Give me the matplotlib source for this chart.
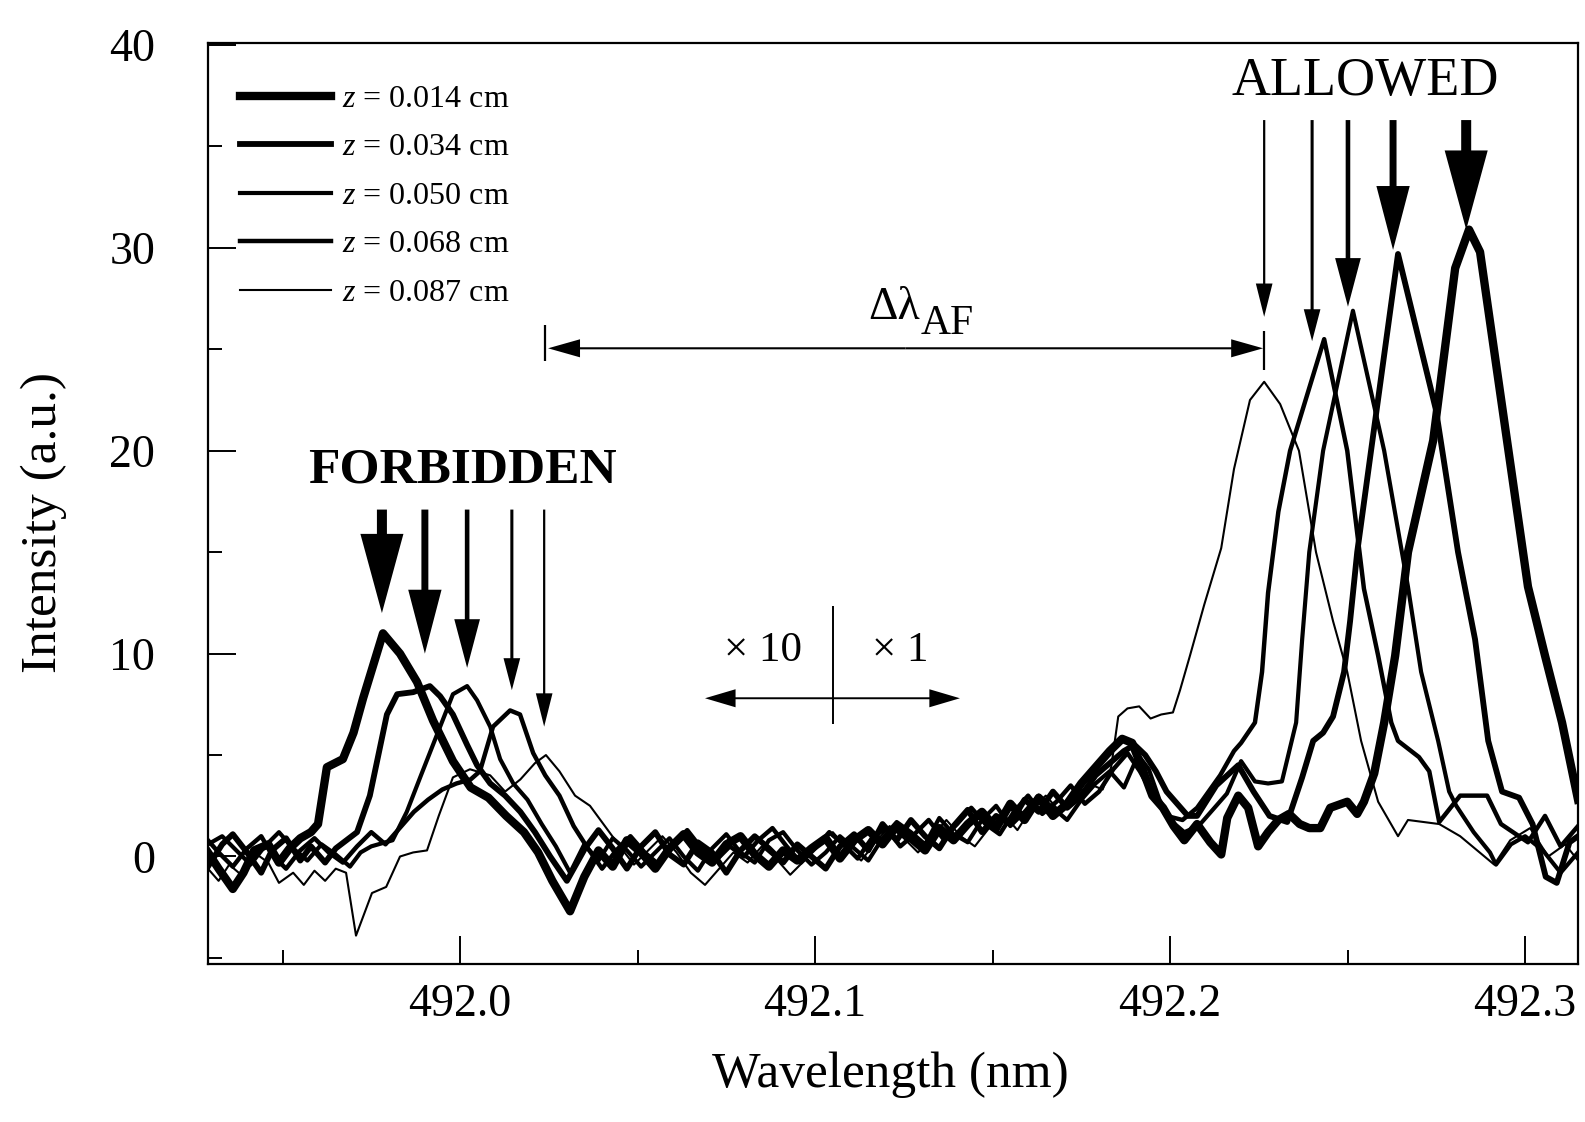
import matplotlib
matplotlib.use('Agg')
import matplotlib.pyplot as plt
from matplotlib.ticker import MultipleLocator, FormatStrFormatter

plt.rcParams['font.family'] = ['Liberation Serif', 'DejaVu Serif']
plt.rcParams['mathtext.fontset'] = 'custom'
plt.rcParams['mathtext.rm'] = 'Liberation Serif'
plt.rcParams['mathtext.it'] = 'Liberation Serif:italic'

# --- data (wavelength in nm, intensity in a.u.) ---
z_labels = ['0.014', '0.034', '0.050', '0.068', '0.087']
line_widths = [6.0, 4.2, 3.0, 3.2, 1.5]

wl_a = [491.929, 491.932, 491.936, 491.939, 491.942, 491.946, 491.949, 491.952, 491.955, 491.958,
        491.960, 491.9625, 491.967, 491.970, 491.9727, 491.9783, 491.9831, 491.9879, 491.9924, 491.998,
        492.003, 492.008, 492.013, 492.018, 492.022, 492.026, 492.031, 492.035, 492.039, 492.043,
        492.047, 492.051, 492.055, 492.059, 492.063, 492.067, 492.071, 492.075, 492.079, 492.083,
        492.087, 492.091, 492.095, 492.099, 492.103, 492.107, 492.111, 492.115, 492.119, 492.123,
        492.127, 492.131, 492.135, 492.139, 492.143, 492.147, 492.151, 492.155, 492.159, 492.163,
        492.167, 492.171, 492.175, 492.179, 492.183, 492.1865, 492.1893, 492.192, 492.195, 492.198,
        492.201, 492.204, 492.2076, 492.2113, 492.2144, 492.2161, 492.2192, 492.222, 492.2248, 492.2276,
        492.2305, 492.2335, 492.2365, 492.2392, 492.2423, 492.2451, 492.2499, 492.2527, 492.2546, 492.2575,
        492.2603, 492.2634, 492.267, 492.2741, 492.2803, 492.2842, 492.2873, 492.2904, 492.2949, 492.3008,
        492.3056, 492.3104, 492.3149]
int_a = [0.2, -0.6, -1.6, -0.8, 0.3, 0.6, -0.3, 0.4, 0.9, 1.2,
         1.6, 4.4, 4.8, 6.1, 7.8, 11.0, 10.0, 8.6, 6.7, 4.7,
         3.4, 2.9, 2.0, 1.2, 0.2, -1.2, -2.7, -1.0, 0.3, -0.5,
         0.8, 0.2, -0.6, 0.4, 1.1, 0.2, -0.3, 0.6, 1.0, 0.1,
         -0.5, 0.3, -0.2, 0.4, 0.9, -0.1, 0.8, 1.3, 0.6, 1.5,
         0.9, 0.3, 1.4, 0.8, 1.6, 2.2, 1.4, 2.6, 1.8, 2.9,
         2.0, 2.6, 3.6, 4.4, 5.2, 5.8, 5.6, 4.4, 3.0, 2.4,
         1.5, 0.8, 1.6, 0.7, 0.1, 1.9, 3.0, 2.4, 0.5, 1.2,
         1.8, 2.1, 1.6, 1.4, 1.4, 2.4, 2.7, 2.1, 2.7, 4.1,
         6.6, 9.9, 15.0, 20.5, 29.0, 30.9, 29.8, 26.0, 20.5, 13.3,
         9.9, 6.6, 2.8]

wl_b = [491.929, 491.933, 491.936, 491.940, 491.944, 491.947, 491.951, 491.955, 491.958, 491.962,
        491.965, 491.968, 491.971, 491.9746, 491.9794, 491.9823, 491.9868, 491.9915, 491.9944, 491.998,
        492.002, 492.0048, 492.0085, 492.0127, 492.017, 492.0211, 492.0254, 492.0301, 492.0352, 492.039,
        492.043, 492.047, 492.051, 492.055, 492.059, 492.063, 492.067, 492.071, 492.075, 492.079,
        492.083, 492.087, 492.091, 492.095, 492.099, 492.103, 492.107, 492.111, 492.115, 492.119,
        492.123, 492.127, 492.131, 492.135, 492.139, 492.143, 492.147, 492.151, 492.155, 492.159,
        492.163, 492.167, 492.171, 492.175, 492.179, 492.183, 492.187, 492.190, 492.193, 492.196,
        492.199, 492.202, 492.205, 492.2076, 492.213, 492.2192, 492.2235, 492.228, 492.233, 492.2372,
        492.2403, 492.2431, 492.2459, 492.249, 492.2507, 492.2527, 492.2566, 492.2642, 492.2749, 492.2811,
        492.2859, 492.2896, 492.2935, 492.2983, 492.3021, 492.3058, 492.3089, 492.3125, 492.3149]
int_b = [-0.5, 0.6, 1.1, 0.2, -0.8, 0.3, 0.9, -0.2, 0.5, -0.3,
         0.4, 0.8, 1.2, 3.0, 7.0, 8.0, 8.1, 8.4, 7.9, 7.0,
         5.5, 4.5, 3.6, 3.0, 2.2, 1.2, 0.0, -1.2, 0.4, 1.3,
         0.4, -0.6, 0.5, 1.2, 0.1, -0.4, 0.7, 0.2, -0.8, 0.3,
         1.0, 0.4, -0.3, 0.6, 0.0, -0.6, 0.5, 1.1, 0.3, 1.6,
         0.8, 1.8, 1.0, 0.4, 1.5, 2.3, 1.2, 2.0, 1.6, 2.8,
         2.2, 3.2, 2.4, 3.0, 4.0, 4.6, 5.2, 5.5, 5.0, 4.2,
         3.2, 2.6, 2.0, 2.0, 3.5, 4.5, 3.2, 2.0, 1.7, 3.9,
         5.7, 6.1, 6.9, 9.1, 11.6, 15.0, 20.0, 29.7, 22.0, 15.0,
         10.7, 5.7, 3.2, 2.9, 1.6, -1.0, -1.3, 0.7, 1.0]

wl_c = [491.929, 491.933, 491.937, 491.941, 491.945, 491.949, 491.953, 491.957, 491.961, 491.965,
        491.969, 491.972, 491.975, 491.981, 491.985, 491.989, 491.9944, 491.998, 492.002, 492.0048,
        492.0085, 492.0113, 492.015, 492.019, 492.023, 492.027, 492.031, 492.035, 492.039, 492.043,
        492.047, 492.051, 492.055, 492.059, 492.063, 492.067, 492.071, 492.075, 492.079, 492.083,
        492.087, 492.091, 492.095, 492.099, 492.103, 492.107, 492.111, 492.115, 492.119, 492.123,
        492.127, 492.131, 492.135, 492.139, 492.143, 492.147, 492.151, 492.155, 492.159, 492.163,
        492.167, 492.171, 492.175, 492.179, 492.183, 492.187, 492.191, 492.194, 492.197, 492.200,
        492.204, 492.208, 492.212, 492.216, 492.220, 492.2239, 492.2276, 492.2315, 492.2355, 492.2372,
        492.2392, 492.2431, 492.2515, 492.2603, 492.267, 492.2707, 492.2755, 492.2786, 492.2806, 492.2855,
        492.2901, 492.2918, 492.296, 492.300, 492.305, 492.310, 492.3149]
int_c = [0.6, 1.0, 0.3, -0.4, 0.5, 1.2, 0.4, -0.2, 0.6, 0.1,
         -0.5, 0.2, 0.5, 0.8, 2.2, 4.0, 6.4, 8.0, 8.4, 7.7,
         6.4, 4.8, 3.6, 2.8, 1.6, 0.5, -0.8, 0.6, -0.2, 0.9,
         0.3, -0.5, 0.2, 0.9, 0.0, -0.7, 0.4, 1.1, 0.2, -0.3,
         0.8, 1.2, 0.3, -0.4, 0.2, 1.0, 0.4, -0.2, 0.9, 1.7,
         1.2, 0.6, 1.9, 1.1, 0.7, 1.8, 2.5, 1.5, 2.2, 3.0,
         2.4, 1.8, 2.8, 3.6, 4.2, 3.4, 5.0, 4.3, 2.8, 1.8,
         1.2, 1.5, 2.3, 3.1, 4.7, 3.7, 3.6, 3.7, 6.6, 10.7,
         15.0, 20.0, 26.9, 20.0, 13.3, 9.1, 5.7, 3.2, 2.5, 1.2,
         0.2, -0.4, 0.6, 1.0, 0.3, -0.8, 0.2]

wl_d = [491.929, 491.932, 491.936, 491.940, 491.944, 491.947, 491.951, 491.955, 491.959, 491.963,
        491.967, 491.971, 491.975, 491.979, 491.983, 491.987, 491.991, 491.995, 491.999, 492.003,
        492.0056, 492.0093, 492.0141, 492.0169, 492.0206, 492.024, 492.028, 492.032, 492.036, 492.040,
        492.044, 492.048, 492.052, 492.056, 492.060, 492.064, 492.068, 492.072, 492.076, 492.080,
        492.084, 492.088, 492.092, 492.096, 492.100, 492.104, 492.108, 492.112, 492.116, 492.120,
        492.124, 492.128, 492.132, 492.136, 492.140, 492.144, 492.148, 492.152, 492.156, 492.160,
        492.164, 492.168, 492.172, 492.176, 492.180, 492.184, 492.188, 492.1915, 492.195, 492.199,
        492.2035, 492.2076, 492.2141, 492.218, 492.220, 492.2239, 492.2259, 492.2276, 492.2305, 492.2338,
        492.2434, 492.2499, 492.2546, 492.2586, 492.2623, 492.2642, 492.2701, 492.273, 492.2758, 492.2817,
        492.2893, 492.2932, 492.3008, 492.3056, 492.310, 492.3149]
int_d = [0.8, 0.2, -0.5, 0.4, 1.0, 0.1, -0.6, 0.3, 0.9, 0.2,
         -0.3, 0.5, 1.2, 0.6, 1.4, 2.2, 2.8, 3.3, 3.6, 3.8,
         4.2, 6.4, 7.2, 7.0, 5.1, 4.0, 3.0, 1.5, 0.4, -0.6,
         0.3, 1.0, 0.2, -0.4, 0.6, 1.3, 0.4, -0.2, 0.5, 0.0,
         0.8, 1.4, 0.5, -0.3, 0.4, 1.2, 0.6, -0.1, 0.9, 1.4,
         0.5, 1.1, 1.8, 0.9, 1.6, 2.4, 1.6, 1.1, 2.2, 3.0,
         2.1, 2.7, 3.5, 2.6, 3.2, 4.3, 5.1, 4.2, 3.1, 2.0,
         1.8, 2.4, 4.0, 5.2, 5.6, 6.6, 9.1, 13.0, 17.0, 20.0,
         25.5, 20.0, 13.2, 9.9, 6.6, 5.7, 4.9, 4.2, 1.7, 3.0,
         3.0, 1.6, 0.7, 2.0, 0.5, 1.5]

wl_e = [491.929, 491.932, 491.935, 491.939, 491.942, 491.946, 491.949, 491.953, 491.956, 491.959,
        491.962, 491.965, 491.9679, 491.9707, 491.9752, 491.9792, 491.9831, 491.9868, 491.9907, 491.994,
        491.998, 492.0028, 492.0085, 492.0127, 492.017, 492.0211, 492.0242, 492.028, 492.0324, 492.0366,
        492.0408, 492.045, 492.049, 492.053, 492.057, 492.061, 492.065, 492.069, 492.073, 492.077,
        492.081, 492.085, 492.089, 492.093, 492.097, 492.101, 492.105, 492.109, 492.113, 492.117,
        492.121, 492.125, 492.129, 492.133, 492.137, 492.141, 492.145, 492.149, 492.153, 492.157,
        492.161, 492.165, 492.169, 492.173, 492.177, 492.181, 492.1834, 492.1854, 492.188, 492.1913,
        492.1945, 492.1975, 492.2008, 492.2028, 492.2056, 492.2096, 492.2144, 492.218, 492.2225, 492.2265,
        492.231, 492.2363, 492.2411, 492.2459, 492.2499, 492.2538, 492.2586, 492.2642, 492.267, 492.2758,
        492.2817, 492.2913, 492.2958, 492.3014, 492.3065, 492.3113, 492.3149]
int_e = [-0.6, -1.2, -0.4, -1.0, 0.2, -0.3, -1.3, -0.8, -1.4, -0.7,
         -1.2, -0.6, -0.8, -3.9, -1.8, -1.5, 0.0, 0.2, 0.3, 2.0,
         3.9, 4.3, 4.0, 3.2, 3.8, 4.6, 5.0, 4.2, 3.0, 2.5,
         1.5, 0.5, -0.4, 0.3, 1.0, 0.2, -0.8, -1.4, -0.6, 0.2,
         -0.3, 0.5, -0.1, -0.9, -0.2, 0.6, 1.2, 0.4, -0.2, 0.7,
         1.5, 0.9, 0.2, 1.0, 1.8, 1.0, 0.5, 1.4, 2.1, 1.3,
         2.4, 3.0, 2.2, 2.8, 3.6, 3.3, 4.4, 6.9, 7.3, 7.4,
         6.8, 7.0, 7.1, 8.2, 9.9, 12.4, 15.2, 19.1, 22.5, 23.4,
         22.3, 20.0, 15.0, 11.6, 9.1, 5.7, 2.7, 1.0, 1.8, 1.6,
         1.0, -0.4, 0.8, 1.4, 0.0, 0.6, -0.2]

# arrow marks: forbidden / allowed line positions, same order as z_labels
forb_wl = [491.978, 491.9901, 492.002, 492.0146, 492.0237]
forb_tip = [12.0, 10.0, 9.3, 8.2, 6.4]
forb_top = 17.1
allow_wl = [492.2834, 492.2628, 492.2501, 492.240, 492.2265]
allow_tip = [30.9, 29.9, 27.1, 25.4, 26.6]
allow_top = 36.3
arrow_tail = [7.2, 5.0, 3.3, 2.2, 1.6]
arrow_hw = [31, 24, 18.5, 12, 12]
arrow_hl = [57, 46, 35, 23, 24]

# delta lambda_AF span and x10 / x1 marker
span_ends = [492.0248, 492.2262]
span_level = 25.05
scale_split = 492.1051
scale_ends = [492.069, 492.1408]
scale_level = 7.8


def arrow(ax, x0, y0, x1, y1, tail, hw, hl):
    ax.annotate('', xy=(x1, y1), xytext=(x0, y0),
                arrowprops=dict(arrowstyle=f'simple,head_length={hl},head_width={hw},tail_width={tail}',
                                mutation_scale=1, color='black', lw=0, shrinkA=0, shrinkB=0))


def main():
    fig = plt.figure(figsize=(15.85, 11.22), dpi=100)
    ax = fig.add_axes([0.1312, 0.1408, 0.8644, 0.8209])

    series = [(wl_a, int_a), (wl_b, int_b), (wl_c, int_c), (wl_d, int_d), (wl_e, int_e)]
    lines = []
    for (wl, inten), lw in zip(series, line_widths):
        ln, = ax.plot(wl, inten, color='black', lw=lw, solid_joinstyle='round')
        lines.append(ln)

    ax.legend(lines, [f'$z$ = {z} cm' for z in z_labels], loc='upper left',
              bbox_to_anchor=(0.0234, 0.955), frameon=False, fontsize=23,
              handlelength=2.85, handletextpad=0.35, labelspacing=0.6,
              borderpad=0, borderaxespad=0)

    ax.set_xlim(491.929, 492.3149)
    ax.set_ylim(-5.3, 40.1)

    # arrows pointing at the line positions
    for i in range(5):
        arrow(ax, forb_wl[i], forb_top, forb_wl[i], forb_tip[i], arrow_tail[i], arrow_hw[i], arrow_hl[i])
        arrow(ax, allow_wl[i], allow_top, allow_wl[i], allow_tip[i], arrow_tail[i], arrow_hw[i], arrow_hl[i])

    ax.text(492.0006, 19.05, 'FORBIDDEN', fontsize=37, fontweight='bold', ha='center', va='center')
    ax.text(492.2549, 38.2, 'ALLOWED', fontsize=39, ha='center', va='center')

    # delta lambda_AF
    mid = 0.5 * (span_ends[0] + span_ends[1])
    for end in span_ends:
        arrow(ax, mid, span_level, end, span_level, 1.5, 13, 23)
    ax.vlines(492.0240, 24.4, 26.2, color='black', lw=1.6)
    ax.vlines(492.2265, 24.0, 25.9, color='black', lw=1.6)
    ax.text(492.1296, 26.5, 'Δλ', fontsize=33, ha='right', va='baseline')
    ax.text(492.1296, 25.75, 'AF', fontsize=30, ha='left', va='baseline')

    # x10 | x1 scale marker
    ax.vlines(scale_split, 6.55, 12.35, color='black', lw=1.4)
    for end in scale_ends:
        arrow(ax, scale_split, scale_level, end, scale_level, 1.4, 13, 22)
    ax.text(492.0854, 10.15, '× 10', fontsize=31, ha='center', va='center')
    ax.text(492.124, 10.15, '× 1', fontsize=31, ha='center', va='center')

    # axes styling
    ax.xaxis.set_major_locator(MultipleLocator(0.1))
    ax.xaxis.set_minor_locator(MultipleLocator(0.05))
    ax.xaxis.set_major_formatter(FormatStrFormatter('%.1f'))
    ax.yaxis.set_major_locator(MultipleLocator(10))
    ax.yaxis.set_minor_locator(MultipleLocator(5))
    ax.tick_params(which='both', direction='in', top=False, right=False, width=1.4, labelsize=33)
    ax.tick_params(which='major', length=20)
    ax.tick_params(which='minor', length=10)
    ax.tick_params(axis='x', pad=14)
    ax.tick_params(axis='y', pad=38)
    for sp in ax.spines.values():
        sp.set_linewidth(1.6)

    ax.set_xlabel('Wavelength (nm)', fontsize=37)
    ax.set_ylabel('Intensity (a.u.)', fontsize=37)
    ax.xaxis.set_label_coords(0.498, -0.0945)
    ax.yaxis.set_label_coords(-0.103, 0.479)

    fig.savefig('out.png', dpi=100)


if __name__ == "__main__":
    main()
